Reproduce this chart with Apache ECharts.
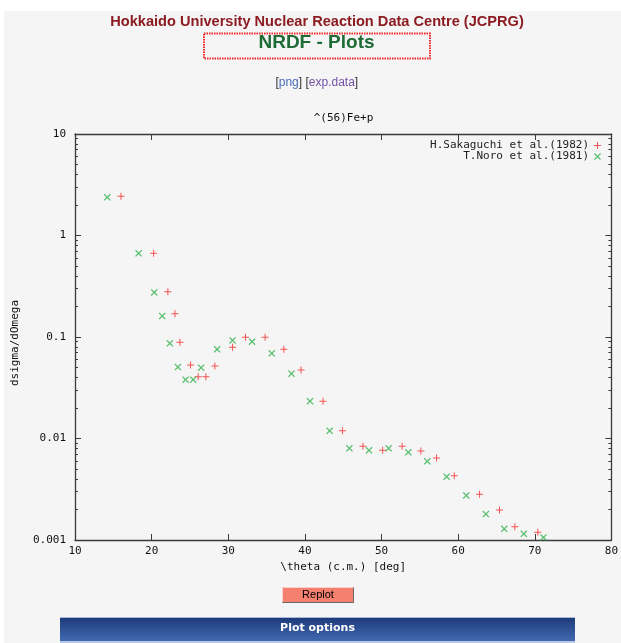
<!DOCTYPE html>
<html>
<head>
<meta charset="utf-8">
<script src="https://cdn.jsdelivr.net/npm/echarts@6/dist/echarts.min.js"></script>
<style>
html,body{margin:0;padding:0;background:#ffffff;}
#chart{width:621px;height:643px;}
</style>
</head>
<body>
<div id="chart"></div>
<script>
// ---- data ----
var sakaguchiTheta = [16.0, 20.26, 22.12, 23.04, 23.69, 25.08, 26.07, 27.08, 28.25, 30.56, 32.25, 34.81, 37.25, 39.5, 42.37, 44.9, 47.58, 50.15, 52.69, 55.14, 57.19, 59.5, 62.8, 65.4, 67.4, 70.4];
var sakaguchiSigma = [2.43, 0.668, 0.279, 0.169, 0.0887, 0.0530, 0.0406, 0.0406, 0.0518, 0.0793, 0.0993, 0.0993, 0.0757, 0.0473, 0.0233, 0.0119, 0.00838, 0.00766, 0.00839, 0.00754, 0.00643, 0.00430, 0.00282, 0.00198, 0.00135, 0.00119];
var noroTheta = [14.21, 18.30, 20.34, 21.38, 22.38, 23.43, 24.43, 25.42, 26.46, 28.55, 30.56, 33.11, 35.68, 38.25, 40.67, 43.24, 45.81, 48.37, 50.93, 53.5, 55.98, 58.5, 61.06, 63.62, 66.02, 68.57, 71.14];
var noroSigma = [2.38, 0.668, 0.275, 0.161, 0.0867, 0.0506, 0.0380, 0.0380, 0.0499, 0.0757, 0.0925, 0.090, 0.069, 0.0435, 0.0233, 0.0119, 0.0080, 0.00766, 0.0080, 0.00731, 0.00596, 0.00421, 0.00275, 0.00180, 0.00129, 0.00115, 0.00106];
var seriesNames = ['H.Sakaguchi et al.(1982)', 'T.Noro et al.(1981)'];
var xTickLabels = ['10', '20', '30', '40', '50', '60', '70', '80'];
var yTickLabels = ['0.001', '0.01', '0.1', '1', '10'];
var yMinorTicks = [0.002,0.003,0.004,0.005,0.006,0.007,0.008,0.009,
                   0.02,0.03,0.04,0.05,0.06,0.07,0.08,0.09,
                   0.2,0.3,0.4,0.5,0.6,0.7,0.8,0.9,
                   2,3,4,5,6,7,8,9];

function zip(a, b) { return a.map(function (v, i) { return [v, b[i]]; }); }

var PLUS = 'path://M3,0H4V3H7V4H4V7H3V4H0V3H3Z';
var CROSS = 'path://M0,1L1,0L4,3L7,0L8,1L5,4L8,7L7,8L4,5L1,8L0,7L3,4Z';
var RED = '#f42a2a';
var GREEN = '#2fb04a';
var AXC = '#3a3a3a';
var MONO = 'DejaVu Sans Mono';

var chart = echarts.init(document.getElementById('chart'), null, {renderer: 'canvas'});

// minor-tick helper axes work in log10 space (value axis -3..1)
function minorAx(pos) {
  return {
    type: 'value', min: -3, max: 1, position: pos,
    axisLine: {show: false},
    axisTick: {show: true, inside: true, length: 3, lineStyle: {color: AXC, width: 1},
      customValues: yMinorTicks.map(function (v) { return Math.log10(v); })},
    axisLabel: {show: false, customValues: yMinorTicks.map(function (v) { return Math.log10(v); })},
    splitLine: {show: false}
  };
}

var option = {
  backgroundColor: '#f4f5f4',
  animation: false,
  legend: [
    {data: [{name: seriesNames[0], icon: PLUS, itemStyle: {color: RED}}], right: 20, top: 140, align: 'right', orient: 'vertical',
     padding: 0, itemWidth: 7, itemHeight: 7, textStyle: {fontFamily: MONO, fontSize: 11, color: '#222'}},
    {data: [{name: seriesNames[1], icon: CROSS, itemStyle: {color: GREEN}}], right: 20, top: 151, align: 'right', orient: 'vertical',
     padding: 0, itemWidth: 7, itemHeight: 7, textStyle: {fontFamily: MONO, fontSize: 11, color: '#222'}}
  ],
  grid: {left: 75, right: 9, top: 134, bottom: 103, containLabel: false},
  xAxis: [
    {type: 'value', min: 10, max: 80, interval: 10, position: 'bottom',
     axisLine: {show: true, onZero: false, lineStyle: {color: AXC, width: 1.3}},
     axisTick: {show: true, inside: true, length: 6, lineStyle: {color: AXC}},
     axisLabel: {margin: 6, fontFamily: MONO, fontSize: 11, color: '#111',
       formatter: function (v) { return xTickLabels[Math.round((v - 10) / 10)]; }},
     splitLine: {show: false},
     name: '\\theta (c.m.) [deg]', nameLocation: 'middle', nameGap: 21,
     nameTextStyle: {fontFamily: MONO, fontSize: 11, color: '#111'}},
    {type: 'value', min: 10, max: 80, interval: 10, position: 'top',
     axisLine: {show: true, onZero: false, lineStyle: {color: AXC, width: 1.3}},
     axisTick: {show: true, inside: true, length: 6, lineStyle: {color: AXC}},
     axisLabel: {show: false}, splitLine: {show: false}}
  ],
  yAxis: [
    {type: 'log', logBase: 10, min: 0.001, max: 10, position: 'left',
     axisLine: {show: true, lineStyle: {color: AXC, width: 1.3}},
     axisTick: {show: true, inside: true, length: 6, lineStyle: {color: AXC}},
     axisLabel: {show: true, margin: 9, fontFamily: MONO, fontSize: 11, color: '#111',
       formatter: function (v) { return yTickLabels[Math.round(Math.log10(v)) + 3]; }},
     splitLine: {show: false}},
    {type: 'log', logBase: 10, min: 0.001, max: 10, position: 'right',
     axisLine: {show: true, lineStyle: {color: AXC, width: 1.3}},
     axisTick: {show: true, inside: true, length: 6, lineStyle: {color: AXC}},
     axisLabel: {show: false}, splitLine: {show: false}},
    minorAx('left'),
    minorAx('right')
  ],
  series: [
    {name: seriesNames[0], type: 'scatter', xAxisIndex: 0, yAxisIndex: 0,
     symbol: PLUS, symbolSize: 7, itemStyle: {color: RED},
     data: zip(sakaguchiTheta, sakaguchiSigma)},
    {name: seriesNames[1], type: 'scatter', xAxisIndex: 0, yAxisIndex: 0,
     symbol: CROSS, symbolSize: 7, itemStyle: {color: GREEN},
     data: zip(noroTheta, noroSigma)}
  ],
  graphic: [
    {type: 'rect', shape: {x: 0, y: 0, width: 621, height: 11}, style: {fill: '#ffffff'}, silent: true},
    {type: 'rect', shape: {x: 0, y: 0, width: 4, height: 643}, style: {fill: '#ffffff'}, silent: true},
    {type: 'text', x: 317, y: 21.7, silent: true,
     style: {text: 'Hokkaido University Nuclear Reaction Data Centre (JCPRG)', fill: '#8c1c22',
       font: 'bold 14.6px "Liberation Sans"', align: 'center', verticalAlign: 'middle'}},
    {type: 'rect', shape: {x: 204, y: 33.5, width: 226, height: 25},
     style: {fill: 'none', stroke: '#f02828', lineWidth: 2, lineDash: [1.5, 1]}, silent: true},
    {type: 'text', x: 316.5, y: 43, silent: true,
     style: {text: 'NRDF - Plots', fill: '#1d6b35',
       font: 'bold 19px "Liberation Sans"', align: 'center', verticalAlign: 'middle'}},
    {type: 'text', x: 316.8, y: 82.7, silent: true,
     style: {text: '{b|[}{p|png}{b|] [}{e|exp.data}{b|]}', align: 'center', verticalAlign: 'middle',
       rich: {
         b: {fontFamily: 'Liberation Sans', fontSize: 12, fontWeight: 'normal', fill: '#333'},
         p: {fontFamily: 'Liberation Sans', fontSize: 12, fontWeight: 'normal', fill: '#4a6cb8'},
         e: {fontFamily: 'Liberation Sans', fontSize: 12, fontWeight: 'normal', fill: '#7552a6'}}}},
    {type: 'text', x: 343.5, y: 118, silent: true,
     style: {text: '^(56)Fe+p', fill: '#111', font: '11px "DejaVu Sans Mono"',
       align: 'center', verticalAlign: 'middle'}},
    {type: 'text', x: 15, y: 343, rotation: Math.PI / 2, silent: true,
     style: {text: 'dsigma/dOmega', fill: '#111', font: '11px "DejaVu Sans Mono"',
       align: 'center', verticalAlign: 'middle'}},
    // Replot button
    {type: 'group', silent: true, children: [
      {type: 'rect', shape: {x: 282, y: 587, width: 72, height: 16}, style: {fill: '#f5806f'}},
      {type: 'polyline', shape: {points: [[282.5, 602.5], [282.5, 587.5], [353.5, 587.5]]},
       style: {stroke: '#fbd0c8', lineWidth: 1, fill: 'none'}},
      {type: 'polyline', shape: {points: [[282.5, 602.5], [353.5, 602.5], [353.5, 587.5]]},
       style: {stroke: '#6a6a6a', lineWidth: 1, fill: 'none'}},
      {type: 'text', x: 318, y: 595, style: {text: 'Replot', fill: '#000', font: '11px "Liberation Sans"',
       align: 'center', verticalAlign: 'middle'}}
    ]},
    // Plot options bar
    {type: 'group', silent: true, children: [
      {type: 'rect', shape: {x: 60, y: 618, width: 515, height: 25},
       style: {fill: new echarts.graphic.LinearGradient(0, 0, 0, 1, [
         {offset: 0, color: '#1d3b7c'}, {offset: 1, color: '#456db5'}])}},
      {type: 'rect', shape: {x: 60, y: 617, width: 515, height: 1}, style: {fill: '#aab8d4'}},
      {type: 'rect', shape: {x: 60, y: 641, width: 515, height: 2}, style: {fill: '#b8c8e4'}},
      {type: 'text', x: 317.5, y: 628, style: {text: 'Plot options', fill: '#ffffff',
       font: 'bold 11px "DejaVu Sans"', align: 'center', verticalAlign: 'middle'}}
    ]}
  ]
};
chart.setOption(option);
</script>
</body>
</html>
